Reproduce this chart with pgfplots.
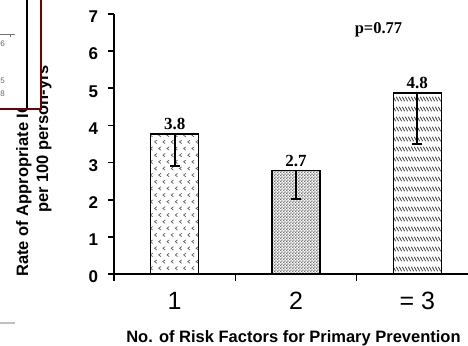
\documentclass[border=0pt]{standalone}
\usepackage{fontspec}
\setmainfont{Liberation Sans}
\newfontfamily\timesf{Liberation Serif}
\usepackage{pgfplots}
\pgfplotsset{compat=1.18}
\usepackage{pgfplotstable}
\usetikzlibrary{patterns}

\pgfdeclarepatternformonly{chevrons}{\pgfqpoint{-1pt}{-1pt}}{\pgfqpoint{9.3pt}{14.3pt}}{\pgfqpoint{8.3pt}{13.3pt}}{%
  \pgfsetlinewidth{0.75pt}%
  \pgfpathmoveto{\pgfqpoint{3.2pt}{12.0pt}}\pgfpathlineto{\pgfqpoint{1.0pt}{10.3pt}}\pgfpathlineto{\pgfqpoint{3.2pt}{8.6pt}}%
  \pgfpathmoveto{\pgfqpoint{7.4pt}{5.3pt}}\pgfpathlineto{\pgfqpoint{5.2pt}{3.6pt}}\pgfpathlineto{\pgfqpoint{7.4pt}{1.9pt}}%
  \pgfusepath{stroke}}
\pgfdeclarepatternformonly{checkdots}{\pgfqpoint{0pt}{0pt}}{\pgfqpoint{3.2pt}{3.2pt}}{\pgfqpoint{3.2pt}{3.2pt}}{%
  \pgfpathrectangle{\pgfqpoint{0pt}{0pt}}{\pgfqpoint{1.6pt}{1.6pt}}%
  \pgfpathrectangle{\pgfqpoint{1.6pt}{1.6pt}}{\pgfqpoint{1.6pt}{1.6pt}}%
  \pgfusepath{fill}}
\pgfdeclarepatternformonly{slashrows}{\pgfqpoint{-1pt}{-1pt}}{\pgfqpoint{4pt}{11pt}}{\pgfqpoint{3pt}{10pt}}{%
  \pgfsetlinewidth{0.8pt}%
  \pgfpathmoveto{\pgfqpoint{0.3pt}{8.2pt}}\pgfpathlineto{\pgfqpoint{2.6pt}{3.8pt}}%
  \pgfusepath{stroke}}

\pgfplotstableread{
x y err lab
1 3.77 0.87 3.8
}\tA
\pgfplotstableread{
x y err lab
2 2.78 0.77 2.7
}\tB
\pgfplotstableread{
x y err lab
3 4.87 1.36 4.8
}\tC

\begin{document}
\begin{tikzpicture}
\useasboundingbox (0,0) rectangle (468pt,345pt);
\clip (0,0) rectangle (468pt,345pt);
\begin{axis}[
  at={(114pt,71pt)}, anchor=south west,
  scale only axis, width=364pt, height=260pt,
  xmin=0.5, xmax=3.5, ymin=0, ymax=7,
  axis lines=left,
  axis line style={-, line width=2.2pt},
  tick align=outside,
  major tick length=6.5pt,
  tick style={line width=1.6pt, black},
  ytick={0,1,...,7},
  xtick={0.5,1.5,2.5,3.5},
  xticklabels={,,,},
  extra x ticks={1,2,3},
  extra x tick labels={1,2,{= 3}},
  extra x tick style={major tick length=0pt, tick label style={font=\fontsize{25}{25}\selectfont, yshift=-15pt}},
  /pgf/number format/assume math mode=true,
  yticklabel style={font=\fontsize{17}{17}\selectfont\bfseries, xshift=-6pt, yshift=-3pt},
  ybar, bar width=48pt, bar shift=0pt,
  nodes near coords,
  point meta=explicit symbolic,
  every node near coord/.append style={font=\fontsize{17}{17}\selectfont\timesf\bfseries, black, anchor=south, yshift=0pt},
  error bars/y dir=minus, error bars/y explicit,
  error bars/error mark=|,
  error bars/error bar style={line width=2.2pt, black, solid},
  error bars/error mark options={line width=2.2pt, mark size=5pt, black, solid},
]
\addplot[draw=black, line width=1.5pt, pattern=chevrons, pattern color=black!60] table[x=x, y=y, y error=err, meta=lab] {\tA};
\addplot[draw=black, line width=1.5pt, pattern=checkdots, pattern color=black!55] table[x=x, y=y, y error=err, meta=lab] {\tB};
\addplot[draw=black, line width=1.5pt, pattern=slashrows, pattern color=black!75] table[x=x, y=y, y error=err, meta=lab] {\tC};
\end{axis}
% p-value
\node[font=\fontsize{16.5}{16.5}\selectfont\timesf\bfseries, anchor=center] at (378.5pt,315pt) {p=0.77};
% x label
\node[font=\fontsize{16.5}{17}\selectfont\bfseries, anchor=base] at (293.5pt,2pt) {No. of Risk Factors for Primary Prevention};
% y label lines
\node[font=\fontsize{16.5}{17}\selectfont\bfseries, rotate=90, anchor=base west, inner sep=0pt] at (28pt,68pt) {Rate of Appropriate ICD Therapy};
\node[font=\fontsize{16.5}{17}\selectfont\bfseries, rotate=90, anchor=base west, inner sep=0pt] at (48pt,132pt) {per 100 person-yrs};
% overlapping fragment of another figure
\draw[fill=white, draw=red!45!black, line width=1.8pt] (-3pt,236pt) rectangle (41pt,348pt);
\draw[line width=1.8pt, black] (27pt,237pt) -- (27pt,346pt);
\draw[line width=0.6pt, black!55] (0pt,311pt) -- (15pt,311pt) (10pt,311pt) -- (10pt,308pt);
\node[font=\fontsize{8}{8}\selectfont, text=black!60, inner sep=0pt, anchor=east] at (5pt,301pt) {6};
\node[font=\fontsize{8}{8}\selectfont, text=black!60, inner sep=0pt, anchor=east] at (5pt,264pt) {5};
\node[font=\fontsize{8}{8}\selectfont, text=black!60, inner sep=0pt, anchor=east] at (5pt,251pt) {8};
\draw[line width=1.5pt, black!25] (0pt,22pt) -- (15pt,22pt);
\end{tikzpicture}
\end{document}
